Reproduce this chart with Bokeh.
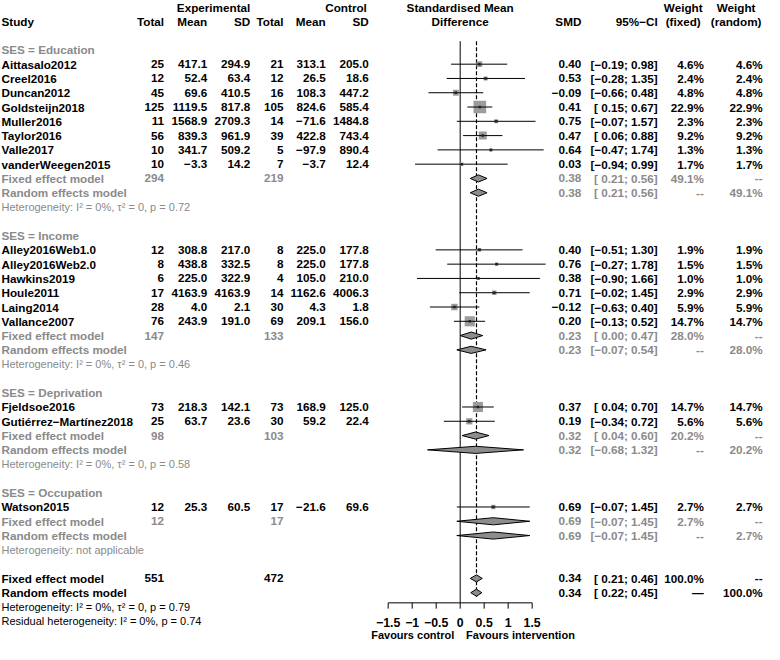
import math
from bokeh.plotting import figure
from bokeh.models import Range1d
from bokeh.core.properties import value
from bokeh.embed import file_html
from bokeh.resources import INLINE

# ---------------- data ----------------
groups = ["Education", "Income", "Deprivation", "Occupation"]
study = ["Aittasalo2012", "Creel2016", "Duncan2012", "Goldsteijn2018", "Muller2016",
         "Taylor2016", "Valle2017", "vanderWeegen2015",
         "Alley2016Web1.0", "Alley2016Web2.0", "Hawkins2019", "Houle2011", "Laing2014",
         "Vallance2007",
         "Fjeldsoe2016", "Gutiérrez\u2212Martínez2018",
         "Watson2015"]
ses = ["Education"] * 8 + ["Income"] * 6 + ["Deprivation"] * 2 + ["Occupation"]
e_total = [25, 12, 45, 125, 11, 56, 10, 10, 12, 8, 6, 17, 28, 76, 73, 25, 12]
e_mean = [417.1, 52.4, 69.6, 1119.5, 1568.9, 839.3, 341.7, -3.3,
          308.8, 438.8, 225.0, 4163.9, 4.0, 243.9, 218.3, 63.7, 25.3]
e_sd = [294.9, 63.4, 410.5, 817.8, 2709.3, 961.9, 509.2, 14.2,
        217.0, 332.5, 322.9, 4163.9, 2.1, 191.0, 142.1, 23.6, 60.5]
c_total = [21, 12, 16, 105, 14, 39, 5, 7, 8, 8, 4, 14, 30, 69, 73, 30, 17]
c_mean = [313.1, 26.5, 108.3, 824.6, -71.6, 422.8, -97.9, -3.7,
          225.0, 225.0, 105.0, 1162.6, 4.3, 209.1, 168.9, 59.2, -21.6]
c_sd = [205.0, 18.6, 447.2, 585.4, 1484.8, 743.4, 890.4, 12.4,
        177.8, 177.8, 210.0, 4006.3, 1.8, 156.0, 125.0, 22.4, 69.6]
smd = [0.40, 0.53, -0.09, 0.41, 0.75, 0.47, 0.64, 0.03,
       0.40, 0.76, 0.38, 0.71, -0.12, 0.20, 0.37, 0.19, 0.69]
ci_low = [-0.19, -0.28, -0.66, 0.15, -0.07, 0.06, -0.47, -0.94,
          -0.51, -0.27, -0.90, -0.02, -0.63, -0.13, 0.04, -0.34, -0.07]
ci_high = [0.98, 1.35, 0.48, 0.67, 1.57, 0.88, 1.74, 0.99,
           1.30, 1.78, 1.66, 1.45, 0.40, 0.52, 0.70, 0.72, 1.45]
w_fixed = [4.6, 2.4, 4.8, 22.9, 2.3, 9.2, 1.3, 1.7,
           1.9, 1.5, 1.0, 2.9, 5.9, 14.7, 14.7, 5.6, 2.7]
w_random = [4.6, 2.4, 4.8, 22.9, 2.3, 9.2, 1.3, 1.7,
            1.9, 1.5, 1.0, 2.9, 5.9, 14.7, 14.7, 5.6, 2.7]

sub_e_total = [294, 147, 98, 12]
sub_c_total = [219, 133, 103, 17]
sub_fixed_smd = [0.38, 0.23, 0.32, 0.69]
sub_fixed_low = [0.21, 0.00, 0.04, -0.07]
sub_fixed_high = [0.56, 0.47, 0.60, 1.45]
sub_random_smd = [0.38, 0.23, 0.32, 0.69]
sub_random_low = [0.21, -0.07, -0.68, -0.07]
sub_random_high = [0.56, 0.54, 1.32, 1.45]
sub_w_fixed = [49.1, 28.0, 20.2, 2.7]
sub_w_random = [49.1, 28.0, 20.2, 2.7]
sub_het = ["Heterogeneity: I² = 0%, τ² = 0, p = 0.72",
           "Heterogeneity: I² = 0%, τ² = 0, p = 0.46",
           "Heterogeneity: I² = 0%, τ² = 0, p = 0.58",
           "Heterogeneity: not applicable"]

overall_e_total = 551
overall_c_total = 472
overall_fixed = [0.34, 0.21, 0.46]
overall_random = [0.34, 0.22, 0.45]
overall_w = 100.0
overall_het = "Heterogeneity: I² = 0%, τ² = 0, p = 0.79"
residual_het = "Residual heterogeneity: I² = 0%, p = 0.74"

axis_ticks = [-1.5, -1, -0.5, 0, 0.5, 1, 1.5]
axis_tick_labels = ["\u22121.5", "\u22121", "\u22120.5", "0", "0.5", "1", "1.5"]
label_left = "Favours control"
label_right = "Favours intervention"

# ---------------- layout ----------------
REF_W = 780.0
REF_TOP, REF_BOTTOM = -1.0, 664.0
W, H = 764, 644
ROW0, ROWH = 50.0, 14.75           # reference pixel y of row 0, row pitch
ZERO_PX, UNIT_PX = 469.3, 49.0     # reference pixel x of SMD 0, px per SMD unit

def row_of(ypx):
    return (ypx - ROW0) / ROWH

FONT = "Liberation Sans"
BODY = "11.7px"
SMALL = "11px"
TICK = "12.3px"
FAV = "11px"
BLACK = "#000000"
GRAY = "#8a8a8a"

p = figure(width=W, height=H, output_backend="svg", toolbar_location=None,
           x_range=Range1d(0, REF_W), y_range=Range1d(row_of(REF_BOTTOM), row_of(REF_TOP)),
           x_axis_location=None, y_axis_location=None, min_border=0,
           background_fill_color="white", border_fill_color="white")
p.outline_line_color = None
p.grid.visible = False
p.extra_x_ranges = {"smd": Range1d(-ZERO_PX / UNIT_PX, (REF_W - ZERO_PX) / UNIT_PX)}

texts = {}

def add(x, r, s, align="right", color=BLACK, style="bold", size=BODY):
    key = (align, color, style, size)
    d = texts.setdefault(key, {"x": [], "y": [], "text": []})
    d["x"].append(x)
    d["y"].append(r)
    d["text"].append(s)

def num(v, nd=1):
    s = f"{v:.{nd}f}"
    return s.replace("-", "\u2212")

def ci(lo, hi):
    a = num(lo, 2)
    if lo >= 0:
        a = " " + a
    return "[" + a + "; " + num(hi, 2) + "]"

X_STUDY = 1
X_ET, X_EM, X_ES = 167, 211, 255
X_CT, X_CM, X_CS = 289, 332, 376
X_SMD, X_CI, X_WF, X_WR = 593, 671, 718, 778

# headers
add(X_ES, -3, "Experimental")
add(X_CS - 2, -3, "Control")
add(ZERO_PX, -3, "Standardised Mean", align="center")
add(697, -3, "Weight", align="center")
add(751, -3, "Weight", align="center")
add(X_STUDY, -2, "Study", align="left")
for x, s in [(X_ET, "Total"), (X_EM, "Mean"), (X_ES, "SD"), (X_CT, "Total"),
             (X_CM, "Mean"), (X_CS, "SD"), (X_SMD, "SMD"), (X_CI, "95%\u2212CI")]:
    add(x, -2, s)
add(ZERO_PX, -2, "Difference", align="center")
add(697, -2, "(fixed)", align="center")
add(751, -2, "(random)", align="center")

study_rows = []
dia_xs, dia_ys = [], []
DH = 0.25

def diamond(est, lo, hi, r):
    dia_xs.append([lo, est, hi, est])
    dia_ys.append([r, r - DH, r, r + DH])

r = 0
for gi, g in enumerate(groups):
    add(X_STUDY, r, "SES = " + g, align="left", color=GRAY)
    r += 1
    for i in range(len(study)):
        if ses[i] != g:
            continue
        add(X_STUDY, r, study[i], align="left")
        add(X_ET, r, str(e_total[i]))
        add(X_EM, r, num(e_mean[i]))
        add(X_ES, r, num(e_sd[i]))
        add(X_CT, r, str(c_total[i]))
        add(X_CM, r, num(c_mean[i]))
        add(X_CS, r, num(c_sd[i]))
        add(X_SMD, r, num(smd[i], 2))
        add(X_CI, r, ci(ci_low[i], ci_high[i]))
        add(X_WF, r, num(w_fixed[i]) + "%")
        add(X_WR, r, num(w_random[i]) + "%")
        study_rows.append(r)
        r += 1
    # pooled rows
    add(X_STUDY, r, "Fixed effect model", align="left", color=GRAY)
    add(X_ET, r, str(sub_e_total[gi]), color=GRAY)
    add(X_CT, r, str(sub_c_total[gi]), color=GRAY)
    add(X_SMD, r, num(sub_fixed_smd[gi], 2), color=GRAY)
    add(X_CI, r, ci(sub_fixed_low[gi], sub_fixed_high[gi]), color=GRAY)
    add(X_WF, r, num(sub_w_fixed[gi]) + "%", color=GRAY)
    add(X_WR, r, "--", color=GRAY)
    diamond(sub_fixed_smd[gi], sub_fixed_low[gi], sub_fixed_high[gi], r)
    r += 1
    add(X_STUDY, r, "Random effects model", align="left", color=GRAY)
    add(X_SMD, r, num(sub_random_smd[gi], 2), color=GRAY)
    add(X_CI, r, ci(sub_random_low[gi], sub_random_high[gi]), color=GRAY)
    add(X_WF, r, "--", color=GRAY)
    add(X_WR, r, num(sub_w_random[gi]) + "%", color=GRAY)
    diamond(sub_random_smd[gi], sub_random_low[gi], sub_random_high[gi], r)
    r += 1
    add(X_STUDY, r, sub_het[gi], align="left", color=GRAY, style="normal", size=SMALL)
    r += 2

# overall
add(X_STUDY, r, "Fixed effect model", align="left")
add(X_ET, r, str(overall_e_total))
add(X_CT, r, str(overall_c_total))
add(X_SMD, r, num(overall_fixed[0], 2))
add(X_CI, r, ci(overall_fixed[1], overall_fixed[2]))
add(X_WF, r, num(overall_w) + "%")
add(X_WR, r, "--")
diamond(overall_fixed[0], overall_fixed[1], overall_fixed[2], r)
r += 1
add(X_STUDY, r, "Random effects model", align="left")
add(X_SMD, r, num(overall_random[0], 2))
add(X_CI, r, ci(overall_random[1], overall_random[2]))
add(X_WF, r, "\u2014")
add(X_WR, r, num(overall_w) + "%")
diamond(overall_random[0], overall_random[1], overall_random[2], r)
last_pooled = r
r += 1
add(X_STUDY, r, overall_het, align="left", style="normal", size=SMALL)
r += 1
add(X_STUDY, r, residual_het, align="left", style="normal", size=SMALL)

# ---------------- forest graphics ----------------
top = row_of(41)
axis_r = row_of(621)
p.segment(x0=[0], y0=[top], x1=[0], y1=[axis_r], x_range_name="smd",
          line_color=BLACK, line_width=1)
p.segment(x0=[overall_fixed[0]], y0=[top], x1=[overall_fixed[0]], y1=[last_pooled + 0.3],
          x_range_name="smd", line_color=BLACK, line_width=1.2, line_dash="4 2")

scale = W / REF_W
sq_size = [2.7 * math.sqrt(w) * scale for w in w_fixed]
p.scatter(x=smd, y=study_rows, size=sq_size, marker="square", x_range_name="smd",
          fill_color="#9c9c9c", line_color=None)
p.segment(x0=ci_low, y0=study_rows, x1=ci_high, y1=study_rows, x_range_name="smd",
          line_color=BLACK, line_width=1)
p.scatter(x=smd, y=study_rows, size=2.5, marker="square", x_range_name="smd",
          fill_color="#222222", line_color=None)
p.patches(xs=dia_xs, ys=dia_ys, x_range_name="smd", fill_color="#8c8c8c",
          line_color=BLACK, line_width=1)

# axis
tick_len = 6 / ROWH
p.segment(x0=[axis_ticks[0]], y0=[axis_r], x1=[axis_ticks[-1]], y1=[axis_r],
          x_range_name="smd", line_color=BLACK, line_width=1)
p.segment(x0=axis_ticks, y0=[axis_r] * len(axis_ticks), x1=axis_ticks,
          y1=[axis_r + tick_len] * len(axis_ticks), x_range_name="smd",
          line_color=BLACK, line_width=1)
p.text(x=axis_ticks, y=[row_of(641)] * len(axis_ticks), text=axis_tick_labels,
       x_range_name="smd", text_align="center", text_baseline="middle",
       text_font=value(FONT), text_font_style="bold", text_font_size=TICK, text_color=BLACK)
add(ZERO_PX - 6, row_of(654), label_left, align="right", size=FAV)
add(ZERO_PX + 6, row_of(654), label_right, align="left", size=FAV)

for (align, color, style, size), d in texts.items():
    p.text(x=d["x"], y=d["y"], text=d["text"], text_align=align, text_baseline="middle",
           text_font=value(FONT), text_font_style=style, text_font_size=size,
           text_color=color)

open("out.html", "w").write(file_html(p, INLINE))
